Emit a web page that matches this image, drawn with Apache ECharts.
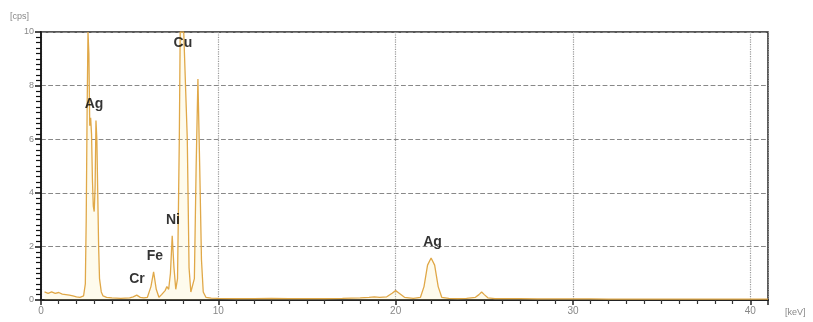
<!DOCTYPE html>
<html><head><meta charset="utf-8">
<script src="https://cdn.jsdelivr.net/npm/echarts@6/dist/echarts.min.js"></script>
<style>html,body{margin:0;padding:0;background:#fff}#c{width:813px;height:322px}</style>
</head><body><div id="c"></div>
<script>
// Spectrum: [energy keV, counts cps]
const energy = [0.2,0.4,0.6,0.8,1.0,1.2,1.4,1.6,1.8,2.0,2.2,2.4,2.5,2.55,2.6,2.65,2.7,2.75,2.8,2.85,2.9,2.95,3.0,3.05,3.1,3.15,3.2,3.25,3.3,3.4,3.5,3.7,4.0,4.5,5.0,5.2,5.4,5.6,5.8,6.0,6.2,6.35,6.5,6.65,6.8,7.0,7.1,7.2,7.3,7.4,7.5,7.6,7.7,7.8,7.85,7.95,8.05,8.15,8.25,8.35,8.45,8.55,8.65,8.75,8.85,8.95,9.05,9.15,9.3,9.6,10,11,12,13,14,15,16,17,18,18.5,18.8,19.1,19.5,19.8,20.0,20.2,20.5,21.0,21.4,21.6,21.8,22.0,22.2,22.4,22.6,23.0,23.5,24.0,24.5,24.7,24.85,25.0,25.2,25.6,26,27,28,29,30,31,32,33,34,35,36,37,38,39,40,41];
const counts = [0.3,0.25,0.3,0.25,0.28,0.22,0.2,0.18,0.15,0.12,0.1,0.15,0.6,3.0,7.0,10,9.2,6.5,6.8,6.2,4.5,3.5,3.3,4.2,6.7,6.0,4.0,2.0,0.8,0.3,0.15,0.1,0.08,0.06,0.08,0.12,0.18,0.1,0.08,0.1,0.5,1.05,0.4,0.1,0.2,0.35,0.5,0.4,1.0,2.4,1.2,0.4,0.8,6.0,10,10,10,10,6.0,1.2,0.3,0.25,0.8,5.0,8.25,5.0,1.5,0.3,0.1,0.07,0.06,0.05,0.05,0.06,0.05,0.05,0.05,0.06,0.08,0.1,0.12,0.1,0.12,0.25,0.35,0.25,0.1,0.06,0.1,0.5,1.3,1.57,1.3,0.5,0.1,0.06,0.05,0.06,0.1,0.2,0.3,0.2,0.08,0.05,0.05,0.05,0.04,0.04,0.04,0.04,0.03,0.03,0.03,0.03,0.03,0.03,0.03,0.03,0.03,0.03];
const labelNames = ["Ag","Cu","Ni","Fe","Cr","Ag"];
const labelX = [2.99,8.0,7.44,6.42,5.41,22.08];
const labelY = [7.31,9.59,2.99,1.64,0.78,2.16];
const xTicks = [0,10,20,30,40];
const yTicks = [0,2,4,6,8,10];

const spectrum = energy.map((e,i)=>[e,counts[i]]);
const labels = labelNames.map((n,i)=>({value:[labelX[i],labelY[i]],name:n}));

const chart = echarts.init(document.getElementById('c'));
chart.setOption({
  animation:false,
  grid:{left:41,right:45,top:32,bottom:22,show:true,borderColor:'#222',borderWidth:1.5,backgroundColor:'transparent'},
  graphic:[
    {type:'text',left:10,top:12,style:{text:'[cps]',fill:'#888',font:'9px "Liberation Sans"'}},
    {type:'text',left:785,top:308,style:{text:'[keV]',fill:'#888',font:'9px "Liberation Sans"'}}
  ],
  xAxis:{type:'value',min:0,max:41,interval:10,
    axisLine:{show:true,lineStyle:{color:'#222',width:2}},
    axisTick:{show:true,length:5,inside:false,lineStyle:{color:'#222',width:1.5}},
    minorTick:{show:true,splitNumber:10,length:4,lineStyle:{color:'#333',width:1.2}},
    axisLabel:{color:'#888',fontSize:10,fontFamily:'Liberation Sans',margin:6,showMaxLabel:false,
      formatter:v=>xTicks.includes(v)?String(v):''},
    splitLine:{show:true,lineStyle:{color:'#999',type:'dotted',width:1.2}}
  },
  yAxis:{type:'value',min:0,max:10,interval:2,
    axisLine:{show:true,lineStyle:{color:'#222',width:2}},
    axisTick:{show:true,length:6,lineStyle:{color:'#111',width:1.5}},
    minorTick:{show:true,splitNumber:10,length:5,lineStyle:{color:'#111',width:1.2}},
    axisLabel:{color:'#888',fontSize:9,fontFamily:'Liberation Sans',margin:7,
      formatter:v=>yTicks.includes(v)?String(v):''},
    splitLine:{show:true,lineStyle:{color:'#888',type:'dashed',width:1.2}}
  },
  series:[
    {type:'line',data:spectrum,showSymbol:false,symbol:'none',clip:true,
      lineStyle:{color:'#e0a848',width:1.3},
      areaStyle:{color:'rgba(250,235,170,0.3)'}},
    {type:'scatter',data:labels,symbolSize:0,silent:true,z:5,
      label:{show:true,position:'inside',formatter:p=>p.name,color:'#000',fontWeight:'bold',fontSize:14,fontFamily:'Liberation Sans'}}
  ]
});
</script></body></html>
